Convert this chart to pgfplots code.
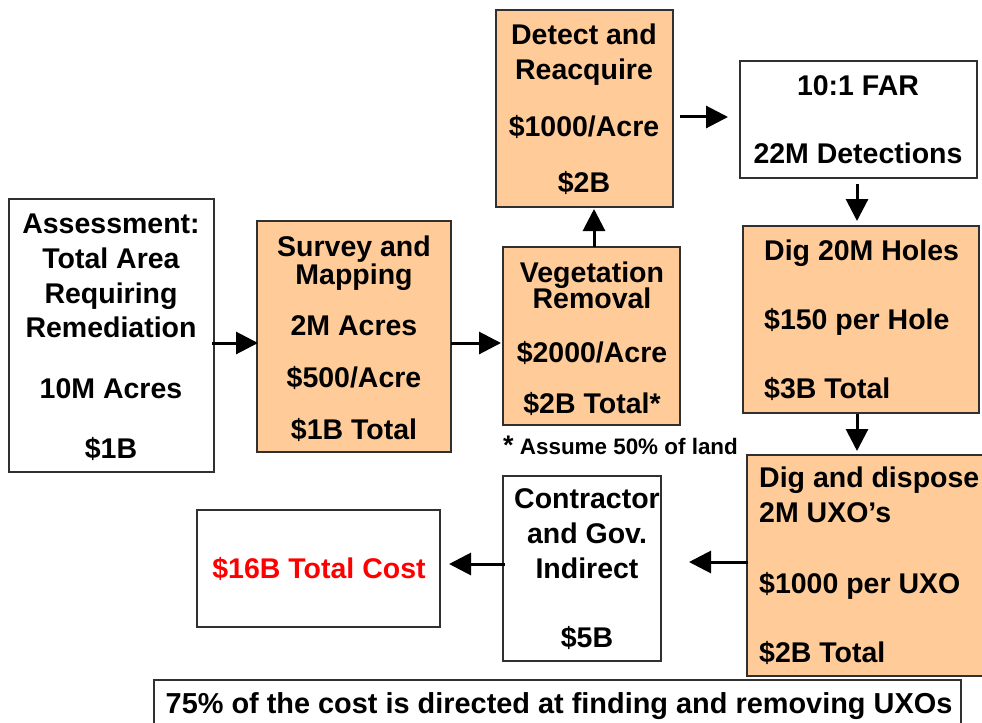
\documentclass[border=0pt]{standalone}
\usepackage{fontspec}
\setmainfont{Liberation Sans}
\usepackage{pgfplots}
\pgfplotsset{compat=1.18}
\usetikzlibrary{arrows.meta}
\definecolor{peach}{HTML}{FFCC99}
\definecolor{edge}{HTML}{303030}
\tikzset{
  box/.style={draw=edge, line width=1.5bp},
  arr/.style={line width=3bp, -{Triangle[length=22bp,width=22bp]}},
  lbl/.style={font=\fontsize{28.6}{30}\selectfont\bfseries, anchor=base, inner sep=0pt},
  lbll/.style={lbl, anchor=base west},
}

\begin{document}
\begin{tikzpicture}
\begin{axis}[
  width=982bp, height=723bp, scale only axis,
  xmin=0, xmax=982, ymin=0, ymax=723, y dir=reverse,
  hide axis, clip=true,
]
% boxes
\addplot[box, fill=white] coordinates {(9,199) (214,199) (214,472) (9,472)} -- cycle;
\addplot[box, fill=peach] coordinates {(257,221) (451,221) (451,452) (257,452)} -- cycle;
\addplot[box, fill=peach] coordinates {(503,247) (680,247) (680,425) (503,425)} -- cycle;
\addplot[box, fill=peach] coordinates {(496,10) (673,10) (673,207) (496,207)} -- cycle;
\addplot[box, fill=white] coordinates {(740,61) (977,61) (977,178) (740,178)} -- cycle;
\addplot[box, fill=peach] coordinates {(743,226) (979,226) (979,413) (743,413)} -- cycle;
\addplot[box, fill=peach] coordinates {(747,455) (990,455) (990,676) (747,676)} -- cycle;
\addplot[box, fill=white] coordinates {(503,476) (661,476) (661,661) (503,661)} -- cycle;
\addplot[box, fill=white] coordinates {(197,510) (440,510) (440,627) (197,627)} -- cycle;
\addplot[box, fill=white] coordinates {(154,680) (961,680) (961,740) (154,740)} -- cycle;

% arrows
\addplot[arr] coordinates {(212,343) (258,343)};
\addplot[arr] coordinates {(451,343) (501,343)};
\addplot[arr] coordinates {(594,247) (594,209)};
\addplot[arr] coordinates {(680,117) (728,117)};
\addplot[arr] coordinates {(857,184) (857,221)};
\addplot[arr] coordinates {(857,414) (857,451)};
\addplot[arr] coordinates {(748,562) (689,562)};
\addplot[arr] coordinates {(505,564) (449,564)};

% text
\node[lbl] at (axis cs:111,233) {Assessment:};
\node[lbl] at (axis cs:111,268) {Total Area};
\node[lbl] at (axis cs:111,303) {Requiring};
\node[lbl] at (axis cs:111,337) {Remediation};
\node[lbl] at (axis cs:111,398) {10M Acres};
\node[lbl] at (axis cs:111,458) {\$1B};

\node[lbl] at (axis cs:354,256) {Survey and};
\node[lbl] at (axis cs:354,284) {Mapping};
\node[lbl] at (axis cs:354,335) {2M Acres};
\node[lbl] at (axis cs:354,387) {\$500/Acre};
\node[lbl] at (axis cs:354,439) {\$1B Total};

\node[lbl] at (axis cs:592,282) {Vegetation};
\node[lbl] at (axis cs:592,308) {Removal};
\node[lbl] at (axis cs:592,362) {\$2000/Acre};
\node[lbl] at (axis cs:592,413) {\$2B Total*};
\node[lbl, anchor=base west, font=\fontsize{22.5}{24}\selectfont\bfseries] at (axis cs:503,454) {{\fontsize{27}{27}\selectfont*} Assume 50\% of land};

\node[lbl] at (axis cs:584,45) {Detect and};
\node[lbl] at (axis cs:584,80) {Reacquire};
\node[lbl] at (axis cs:584,137) {\$1000/Acre};
\node[lbl] at (axis cs:584,193) {\$2B};

\node[lbl] at (axis cs:858,96) {10:1 FAR};
\node[lbl] at (axis cs:858,164) {22M Detections};

\node[lbll] at (axis cs:764,260) {Dig 20M Holes};
\node[lbll] at (axis cs:764,329) {\$150 per Hole};
\node[lbll] at (axis cs:764,398) {\$3B Total};

\node[lbll] at (axis cs:759,487) {Dig and dispose};
\node[lbll] at (axis cs:759,522) {2M UXO’s};
\node[lbll] at (axis cs:759,593) {\$1000 per UXO};
\node[lbll] at (axis cs:759,662) {\$2B Total};

\node[lbl] at (axis cs:587,508) {Contractor};
\node[lbl] at (axis cs:587,543) {and Gov.};
\node[lbl] at (axis cs:587,578) {Indirect};
\node[lbl] at (axis cs:587,647) {\$5B};

\node[lbl, text=red] at (axis cs:319,578) {\$16B Total Cost};

\node[lbl, font=\fontsize{29}{30}\selectfont\bfseries] at (axis cs:559,713) {75\% of the cost is directed at finding and removing UXOs};
\end{axis}
\pgfresetboundingbox
\path[use as bounding box] (current axis.south west) rectangle (current axis.north east);
\end{tikzpicture}
\end{document}
